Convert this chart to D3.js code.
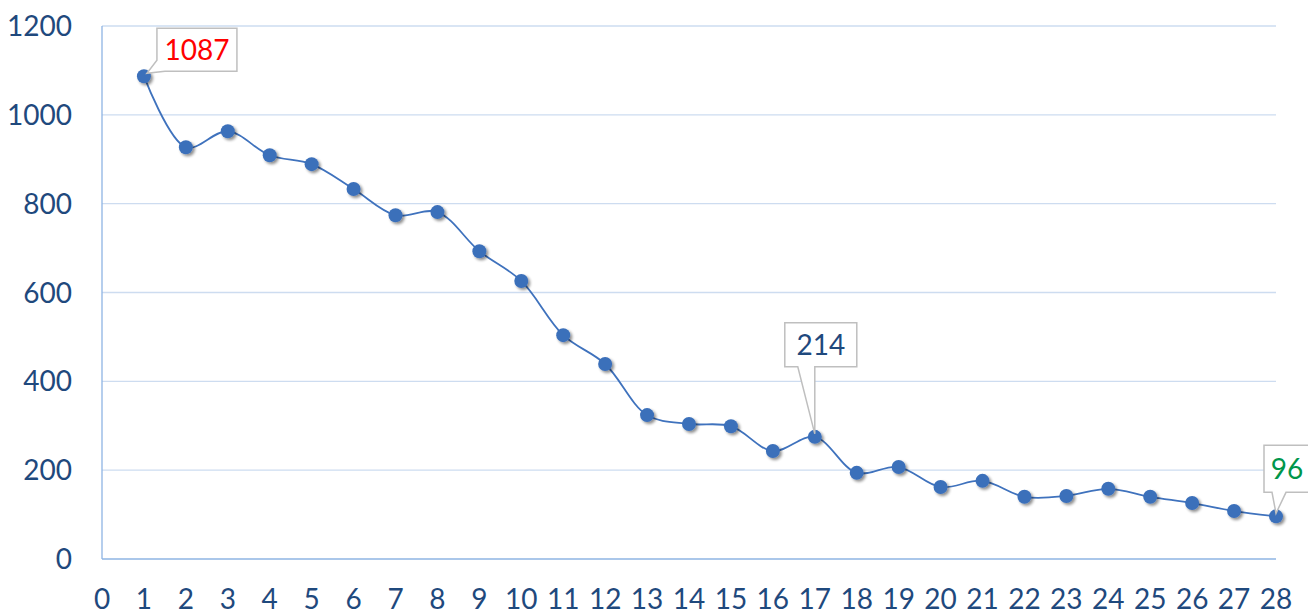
<!DOCTYPE html>
<html><head><meta charset="utf-8">
<script src="https://cdn.jsdelivr.net/npm/d3@7"></script>
<style>html,body{margin:0;padding:0;background:#fff;}svg{display:block;}</style>
</head><body>
<svg id="chart" width="1308" height="614"></svg>
<script>
const xValues = [1,2,3,4,5,6,7,8,9,10,11,12,13,14,15,16,17,18,19,20,21,22,23,24,25,26,27,28];
const yValues = [1087,927,963,909,889,833,774,781,693,626,504,439,324,304,299,243,275,194,207,162,176,140,142,158,140,126,108,96];
const xTicks = d3.range(0,29);
const yTicks = [0,200,400,600,800,1000,1200];
const calloutX = [1,17,28];
const calloutText = ["1087","214","96"];
const calloutColor = ["#ff0000","#1f497d","#00964b"];

const svg = d3.select("#chart");
const font = "Lato, 'Open Sans', sans-serif";
const x = d3.scaleLinear().domain([0,28]).range([102,1276]);
const y = d3.scaleLinear().domain([0,1200]).range([559,26]);

const defs = svg.append("defs");
const f = defs.append("filter").attr("id","sh").attr("x","-50%").attr("y","-50%").attr("width","200%").attr("height","200%");
f.append("feGaussianBlur").attr("in","SourceAlpha").attr("stdDeviation",1.5).attr("result","b");
f.append("feOffset").attr("in","b").attr("dx",1.5).attr("dy",2).attr("result","o");
f.append("feComponentTransfer").attr("in","o").attr("result","o2").append("feFuncA").attr("type","linear").attr("slope",0.45);
const m = f.append("feMerge"); m.append("feMergeNode").attr("in","o2"); m.append("feMergeNode").attr("in","SourceGraphic");

// gridlines
svg.append("g").selectAll("line").data(yTicks.filter(d=>d>0)).join("line")
  .attr("x1",x(0)).attr("x2",x(28)).attr("y1",d=>y(d)).attr("y2",d=>y(d))
  .attr("stroke","#cddcf0").attr("stroke-width",1.3);

// axes lines
svg.append("line").attr("x1",x(0)).attr("x2",x(0)).attr("y1",y(1200)).attr("y2",y(0)).attr("stroke","#8eb4e3").attr("stroke-width",1.3);
svg.append("line").attr("x1",x(0)).attr("x2",x(28)).attr("y1",y(0)).attr("y2",y(0)).attr("stroke","#8eb4e3").attr("stroke-width",1.3);

// y tick labels
svg.append("g").selectAll("text").data(yTicks).join("text")
  .attr("x",72).attr("y",d=>y(d)).attr("dy","0.36em").attr("text-anchor","end")
  .attr("font-family",font).attr("font-size",28).attr("fill","#1f497d").text(d=>d);
// x tick labels
svg.append("g").selectAll("text").data(xTicks).join("text")
  .attr("x",d=>x(d)).attr("y",609).attr("text-anchor","middle")
  .attr("font-family",font).attr("font-size",28).attr("fill","#1f497d").text(d=>d);

const pts = xValues.map((d,i)=>[x(d),y(yValues[i])]);
svg.append("path").attr("d",d3.line().curve(d3.curveCatmullRom.alpha(0.5))(pts))
  .attr("fill","none").attr("stroke","#3f72bd").attr("stroke-width",1.8);
svg.append("g").selectAll("circle").data(pts).join("circle")
  .attr("cx",d=>d[0]).attr("cy",d=>d[1]).attr("r",7)
  .attr("fill","#3b6fba").attr("filter","url(#sh)");

// callouts
const boxes = [
  {dx:13, dy:-48, w:80, h:43},
  {dx:-30, dy:-114, w:72, h:44},
  {dx:-12, dy:-71, w:46, h:47}
];
calloutX.forEach((xv,i)=>{
  const px = x(xv), py = y(yValues[xValues.indexOf(xv)]);
  const b = boxes[i];
  const bx = px + b.dx, by = py + b.dy, bw = b.w, bh = b.h;
  let p;
  if (i===0) {
    p = `M${bx},${by} H${bx+bw} V${by+bh} H${bx+8} L${px+3},${py-3} L${bx},${by+bh-11} Z`;
  } else if (i===1) {
    p = `M${bx},${by} H${bx+bw} V${by+bh} H${px} L${px},${py-3} L${px-17},${by+bh} H${bx} Z`;
  } else {
    p = `M${bx},${by} H${bx+bw} V${by+bh} H${px+10} L${px},${py-3} L${px-4},${by+bh} H${bx} Z`;
  }
  svg.append("path").attr("d",p).attr("fill","#fff").attr("stroke","#bfbfbf").attr("stroke-width",1.5);
  svg.append("text").attr("x",bx+bw/2).attr("y",by+bh/2).attr("dy","0.36em").attr("text-anchor","middle")
    .attr("font-family",font).attr("font-size",28).attr("fill",calloutColor[i]).text(calloutText[i]);
});
</script>
</body></html>
